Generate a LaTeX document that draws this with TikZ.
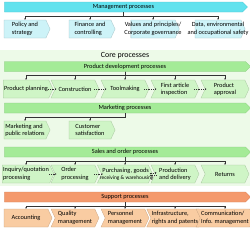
\documentclass[tikz,border=0pt]{standalone}
\usepackage{fontspec}
\setsansfont{Carlito}
\usetikzlibrary{arrows.meta,positioning,shapes.symbols}
\definecolor{mgmtbar}{HTML}{62E2EE}
\definecolor{mgmtbox}{HTML}{CDF3F8}
\definecolor{corebar}{HTML}{A4EB97}
\definecolor{corebox}{HTML}{CFF5C6}
\definecolor{corebg}{HTML}{EDFAE8}
\definecolor{supbar}{HTML}{F4996C}
\definecolor{supbox}{HTML}{F9CCA2}
\newcommand\wline[1]{\makebox[1.7cm][c]{#1}}
\newcommand\lline[1]{\makebox[1.8cm][l]{#1}}

\begin{document}
\begin{tikzpicture}[
  x=0.04cm, y=-0.04cm,
  font=\sffamily\fontsize{7.2}{8.4}\selectfont,
  procbar/.style={signal, signal to=east, signal pointer angle=90, fill=#1, draw=#1!85!black, line width=0.3pt, minimum width=9.84cm, minimum height=0.4cm, inner sep=0pt},
  subbox/.style={signal, signal to=east, signal pointer angle=130, fill=#1, draw=#1!80!black, line width=0.3pt, minimum width=1.92cm, minimum height=0.72cm, inner xsep=1pt, inner ysep=0pt, align=left},
  chevbox/.style={subbox=#1, signal from=west},
  conn/.style={-{Latex[length=1.6pt,width=1.8pt]}, line width=0.4pt, black!80},
  flow/.style={conn, dash pattern=on 1pt off 1pt}
]
\useasboundingbox (0,0) rectangle (250,229);

% management
\node[procbar=mgmtbar, minimum width=9.72cm] (mgmt) at (123.5,7) {Management processes};
\node[subbox=mgmtbox, minimum width=1.84cm] (policy)  at (25,29)  {Policy and\\strategy};
\node[subbox=mgmtbox, minimum width=1.84cm] (finance) at (90,29)  {Finance and\\controlling};
\node[subbox=mgmtbox, minimum width=1.84cm] (values)  at (153,29) {\wline{Values and principles/}\\\wline{Corporate governance}};
\node[subbox=mgmtbox, minimum width=2.0cm] (data)    at (218,29) {\wline{Data, environmental}\\\wline{and occupational safety}};
\foreach \b in {policy,finance,values,data}
  \draw[conn] (mgmt.south) -- ++(0,4) -| (\b.north);

% core processes
\fill[corebg] (0,50) rectangle (250,186);
\node[font=\sffamily\fontsize{9}{10}\selectfont] (core) at (125,56) {Core processes};

% product development
\node[procbar=corebar] (pdev) at (125,66.5) {Product development processes};
\node[subbox=corebox]  (plan)  at (26,89)  {Product planning};
\node[chevbox=corebox] (cons)  at (75,89)  {Construction};
\node[chevbox=corebox] (tool)  at (125,89) {Toolmaking};
\node[chevbox=corebox] (first) at (175,89) {First article\\inspection};
\node[chevbox=corebox] (appr)  at (225,89) {Product\\approval};
\foreach \b in {plan,cons,tool,first,appr}
  \draw[conn] (pdev.south) -- ++(0,4) -| (\b.north);
\draw[flow] ([xshift=-0.2cm]plan.east) -- ([xshift=0.06cm]cons.west);
\draw[flow] ([xshift=-0.2cm]cons.east) -- ([xshift=0.06cm]tool.west);
\draw[flow] ([xshift=-0.2cm]tool.east) -- ([xshift=0.06cm]first.west);
\draw[flow] ([xshift=-0.2cm]first.east) -- ([xshift=0.06cm]appr.west);

% marketing
\node[procbar=corebar] (mark) at (125,108) {Marketing processes};
\node[subbox=corebox, minimum width=1.84cm] (pr)   at (25,130) {Marketing and\\public relations};
\node[subbox=corebox, minimum width=1.84cm] (cust) at (90,130) {Customer\\satisfaction};
\foreach \b in {pr,cust}
  \draw[conn] (mark.south) -- ++(0,4) -| (\b.north);

% sales and order
\node[procbar=corebar] (sales) at (125,152) {Sales and order processes};
\node[subbox=corebox]  (inq)   at (26,174)  {Inquiry/quotation\\processing};
\node[chevbox=corebox] (order) at (75,174)  {Order\\processing};
\node[chevbox=corebox] (purch) at (125,174) {\lline{Purchasing, goods}\\\lline{\hspace*{-3pt}\fontsize{6.1}{7}\selectfont receiving \& warehousing}};
\node[chevbox=corebox] (prod)  at (175,174) {Production\\and delivery};
\node[chevbox=corebox] (ret)   at (225,174) {Returns};
\foreach \b in {inq,order,purch,prod,ret}
  \draw[conn] (sales.south) -- ++(0,4) -| (\b.north);
\draw[flow] ([xshift=-0.2cm]inq.east) -- ([xshift=0.06cm]order.west);
\draw[flow] ([xshift=-0.2cm]order.east) -- ([xshift=0.06cm]purch.west);
\draw[flow] ([xshift=-0.12cm,yshift=1.5pt]purch.east) -- ([xshift=0.06cm,yshift=1.5pt]prod.west);
\draw[flow] ([xshift=0.06cm,yshift=-1.5pt]prod.west) -- ([xshift=-0.12cm,yshift=-1.5pt]purch.east);

% support
\node[procbar=supbar] (supp) at (125,197) {Support processes};
\node[subbox=supbox]  (acc)   at (26,218)  {Accounting};
\node[chevbox=supbox] (qual)  at (75,218)  {Quality\\management};
\node[chevbox=supbox] (pers)  at (125,218) {Personnel\\management};
\node[chevbox=supbox] (infra) at (175,218) {Infrastructure,\\rights and patents};
\node[chevbox=supbox] (comm)  at (225,218) {Communication/\\Info. management};
\foreach \b in {acc,qual,pers,infra,comm}
  \draw[conn] (supp.south) -- ++(0,4) -| (\b.north);
\end{tikzpicture}
\end{document}
